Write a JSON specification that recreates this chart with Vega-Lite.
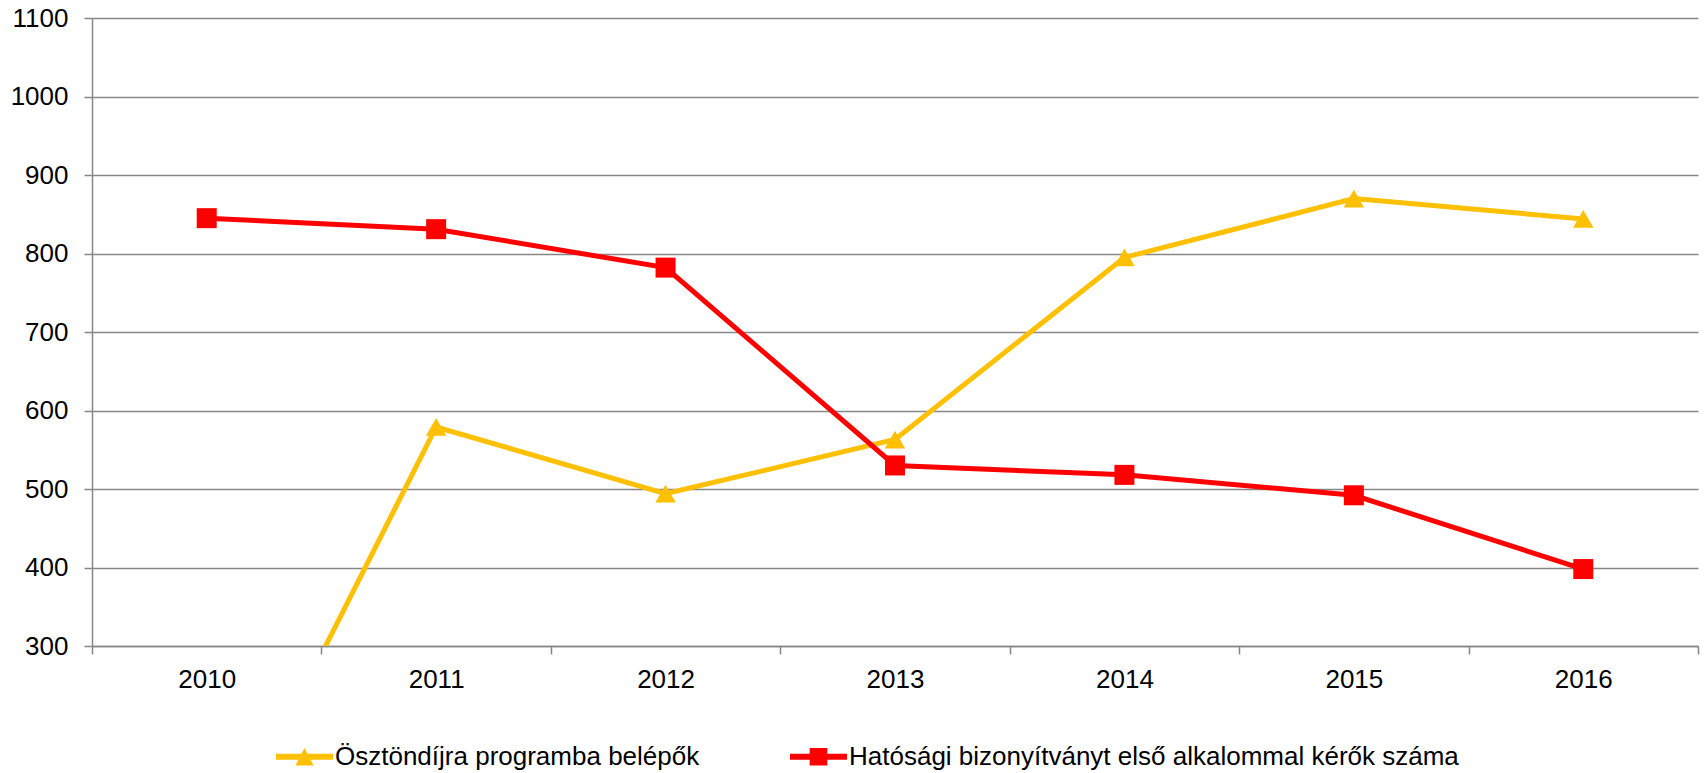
{
  "$schema": "https://vega.github.io/schema/vega-lite/v6.json",
  "autosize": {"type": "none"},
  "padding": {"left": 92, "top": 18, "right": 9, "bottom": 127},
  "width": 1606,
  "height": 628,
  "background": "white",
  "data": {
    "values": [
      {"year": "2010", "series": "Ösztöndíjra programba belépők", "value": 0},
      {"year": "2011", "series": "Ösztöndíjra programba belépők", "value": 579},
      {"year": "2012", "series": "Ösztöndíjra programba belépők", "value": 494},
      {"year": "2013", "series": "Ösztöndíjra programba belépők", "value": 563},
      {"year": "2014", "series": "Ösztöndíjra programba belépők", "value": 795},
      {"year": "2015", "series": "Ösztöndíjra programba belépők", "value": 870},
      {"year": "2016", "series": "Ösztöndíjra programba belépők", "value": 844},
      {"year": "2010", "series": "Hatósági bizonyítványt első alkalommal kérők száma", "value": 845},
      {"year": "2011", "series": "Hatósági bizonyítványt első alkalommal kérők száma", "value": 831},
      {"year": "2012", "series": "Hatósági bizonyítványt első alkalommal kérők száma", "value": 782},
      {"year": "2013", "series": "Hatósági bizonyítványt első alkalommal kérők száma", "value": 530},
      {"year": "2014", "series": "Hatósági bizonyítványt első alkalommal kérők száma", "value": 518},
      {"year": "2015", "series": "Hatósági bizonyítványt első alkalommal kérők száma", "value": 492},
      {"year": "2016", "series": "Hatósági bizonyítványt első alkalommal kérők száma", "value": 398}
    ]
  },
  "encoding": {
    "x": {
      "field": "year",
      "type": "ordinal",
      "scale": {"type": "band", "paddingInner": 0, "paddingOuter": 0},
      "axis": {
        "title": null,
        "tickBand": "extent",
        "labelAngle": 0,
        "labelPadding": 12,
        "tickSize": 8,
        "grid": false
      }
    },
    "y": {
      "field": "value",
      "type": "quantitative",
      "scale": {"domain": [300, 1100], "nice": false, "zero": false},
      "axis": {
        "title": null,
        "format": "d",
        "values": [300, 400, 500, 600, 700, 800, 900, 1000, 1100],
        "tickSize": 8,
        "labelPadding": 16,
        "grid": true
      }
    },
    "color": {
      "field": "series",
      "type": "nominal",
      "scale": {
        "domain": ["Ösztöndíjra programba belépők", "Hatósági bizonyítványt első alkalommal kérők száma"],
        "range": ["#FFC000", "#FF0000"]
      },
      "legend": {
        "title": null,
        "orient": "none",
        "direction": "horizontal",
        "legendX": 184,
        "legendY": 710,
        "columns": 2,
        "columnPadding": 90,
        "labelOffset": 2,
        "labelLimit": 1000,
        "labelFontSize": 26,
        "labelColor": "#000000",
        "symbolSize": 3249,
        "symbolOpacity": 1,
        "symbolStrokeWidth": 0,
        "padding": 0
      }
    }
  },
  "layer": [
    {
      "mark": {"type": "point", "filled": true, "opacity": 0, "size": 1},
      "encoding": {
        "shape": {
          "field": "series",
          "type": "nominal",
          "scale": {
            "domain": ["Ösztöndíjra programba belépők", "Hatósági bizonyítványt első alkalommal kérők száma"],
            "range": [
              "M-1,-0.105H1V0.105H-1Z M-0.32,0.31L0,-0.31L0.32,0.31Z",
              "M-1,-0.105H1V0.105H-1Z M-0.31,-0.31H0.31V0.31H-0.31Z"
            ]
          },
          "legend": {
            "title": null,
            "orient": "none",
            "direction": "horizontal",
            "legendX": 184,
            "legendY": 710,
            "columns": 2,
            "columnPadding": 90,
            "labelOffset": 2,
            "labelLimit": 1000,
            "labelFontSize": 26,
            "labelColor": "#000000",
            "symbolSize": 3249,
            "symbolOpacity": 1,
            "symbolStrokeWidth": 0,
            "padding": 0
          }
        }
      }
    },
    {
      "mark": {"type": "line", "strokeWidth": 5, "clip": true}
    },
    {
      "transform": [{"filter": "datum.series === 'Ösztöndíjra programba belépők'"}],
      "mark": {"type": "point", "shape": "triangle-up", "filled": true, "opacity": 1, "size": 420, "clip": true}
    },
    {
      "transform": [{"filter": "datum.series !== 'Ösztöndíjra programba belépők'"}],
      "mark": {"type": "point", "shape": "square", "filled": true, "opacity": 1, "size": 400, "clip": true}
    }
  ],
  "config": {
    "font": "Liberation Sans",
    "view": {"stroke": null},
    "axis": {
      "labelFont": "Liberation Sans",
      "labelFontSize": 26,
      "labelColor": "#000000",
      "domainColor": "#868686",
      "domainWidth": 1.5,
      "tickColor": "#868686",
      "tickWidth": 1.5,
      "gridColor": "#868686",
      "gridWidth": 1.5,
      "gridOpacity": 1
    },
    "legend": {"labelFont": "Liberation Sans"}
  }
}
